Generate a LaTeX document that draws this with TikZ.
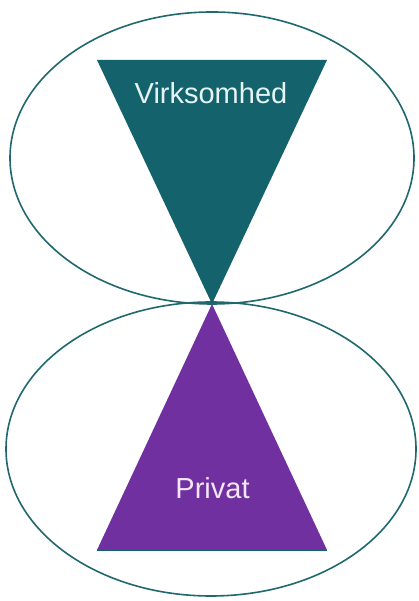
\documentclass[tikz,border=0pt]{standalone}
\usepackage{fontspec}
\setmainfont{Liberation Sans}
\usetikzlibrary{positioning}

\definecolor{tealdark}{RGB}{20,98,107}
\definecolor{ringline}{RGB}{30,104,110}
\definecolor{violet}{RGB}{112,48,160}
\definecolor{paletop}{RGB}{228,244,244}
\definecolor{palebot}{RGB}{244,230,248}

\tikzset{
  ring/.style={ringline, line width=1.6pt},
  tagtext/.style={font=\fontsize{29}{34}\selectfont}
}

\begin{document}
\begin{tikzpicture}[x=1pt,y=1pt]
          % Variables
          \def \midx  {212}
          \def \waist {297}
          \def \topy  {541}
          \def \boty  {51}
          \def \halfw {115}

          \useasboundingbox (0,0) rectangle (419,601);

          % Ellipses
          \draw[ring] (212,443) ellipse [x radius=202, y radius=146];
          \draw[ring] (211,152) ellipse [x radius=205, y radius=147];

          % Triangles
          \coordinate (waist) at (\midx,\waist);
          \fill[tealdark] (\midx-\halfw,\topy) -- (\midx+\halfw,\topy) -- (waist) -- cycle;
          \fill[violet] (\midx-\halfw,\boty) -- (\midx+\halfw,\boty) -- (waist) -- cycle;
          \draw[tealdark, line width=0.8pt] (\midx-\halfw,\boty) -- (\midx+\halfw,\boty);

          % Labels
          \node[tagtext, text=paletop] (virk) at (211,508) {Virksomhed};
          \node[tagtext, text=palebot] (priv) at (212.5,113) {Privat};

        \end{tikzpicture}
\end{document}
